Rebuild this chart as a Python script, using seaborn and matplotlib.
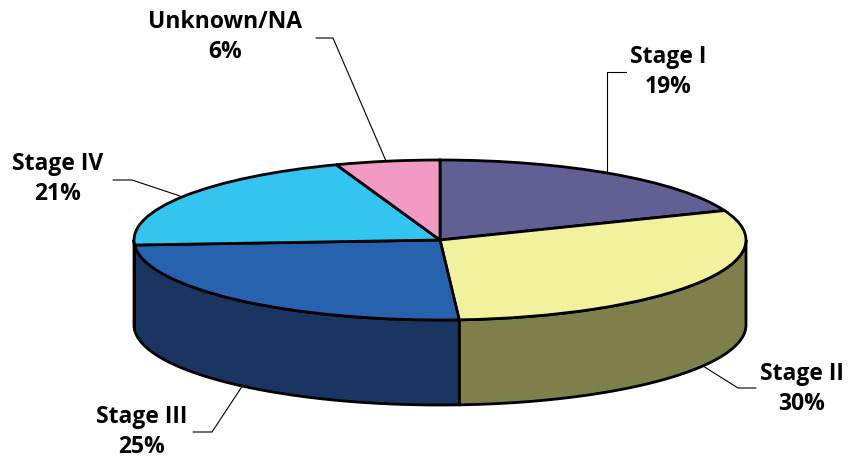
import numpy as np
import seaborn as sns
import matplotlib.pyplot as plt

# data
stages = ['Stage I', 'Stage II', 'Stage III', 'Stage IV', 'Unknown/NA']
share = [19.0, 30.0, 25.0, 20.5, 5.5]
pct_labels = ['19%', '30%', '25%', '21%', '6%']
top_colors = ['#606094', '#F2F29E', '#2662AE', '#33C5F0', '#F29AC4']
side_colors = ['#3C3C5E', '#7F7F4C', '#1B3562', '#1E7FA0', '#A06480']

sns.set_style('white')
plt.rcParams['font.family'] = ['Open Sans', 'DejaVu Sans']

fig = plt.figure(figsize=(8.51, 4.62), dpi=100)
ax = fig.add_axes([0, 0, 1, 1])

# ellipse geometry in pixels: centre, half width, half height, wall depth
cx, cy, rx, ry = 440, 240, 306, 80
depth = 85 / ry


def px(x, y):
    return (x - cx) / rx, (cy - y) / ry


# top face
wedges, _ = ax.pie(share, colors=top_colors, startangle=90, counterclock=False,
                   wedgeprops=dict(edgecolor='black', linewidth=2, zorder=3))

# side walls, only the front half (180..360 deg) is visible
frac = np.array(share) / sum(share)
ends = 90 - 360 * np.cumsum(frac)
starts = np.concatenate([[90], ends[:-1]])
for s, e, col in zip(starts, ends, side_colors):
    lo, hi = max(e, -180), min(s, 0)
    if lo >= hi:
        continue
    t = np.radians(np.linspace(lo, hi, 100))
    xs = np.concatenate([np.cos(t), np.cos(t[::-1])])
    ys = np.concatenate([np.sin(t), np.sin(t[::-1]) - depth])
    ax.fill(xs, ys, facecolor=col, edgecolor='black', linewidth=2, zorder=2)

# labels and leader lines (pixel positions)
label_pos = [(668, 72), (802, 389), (142, 432), (58, 179), (225, 37)]
leaders = [
    [(626, 72), (607, 72), (607, 172)],
    [(756, 388), (738, 388), (703, 366)],
    [(193, 432), (212, 432), (243, 385)],
    [(113, 180), (132, 180), (180, 196)],
    [(316, 38), (333, 38), (386, 161)],
]
for name, lab, (lx, ly), pts in zip(stages, pct_labels, label_pos, leaders):
    x, y = px(lx, ly)
    ax.text(x, y, f'{name}\n{lab}', ha='center', va='center', fontsize=16.5,
            fontweight='bold', linespacing=1.35, color='black', zorder=5)
    lxs, lys = zip(*[px(a, b) for a, b in pts])
    ax.plot(lxs, lys, color='black', linewidth=0.8, zorder=4)

ax.set_aspect('auto')
ax.set_xlim(px(0, 0)[0], px(851, 0)[0])
ax.set_ylim(px(0, 462)[1], px(0, 0)[1])
ax.axis('off')

plt.savefig('out.png', dpi=100)
